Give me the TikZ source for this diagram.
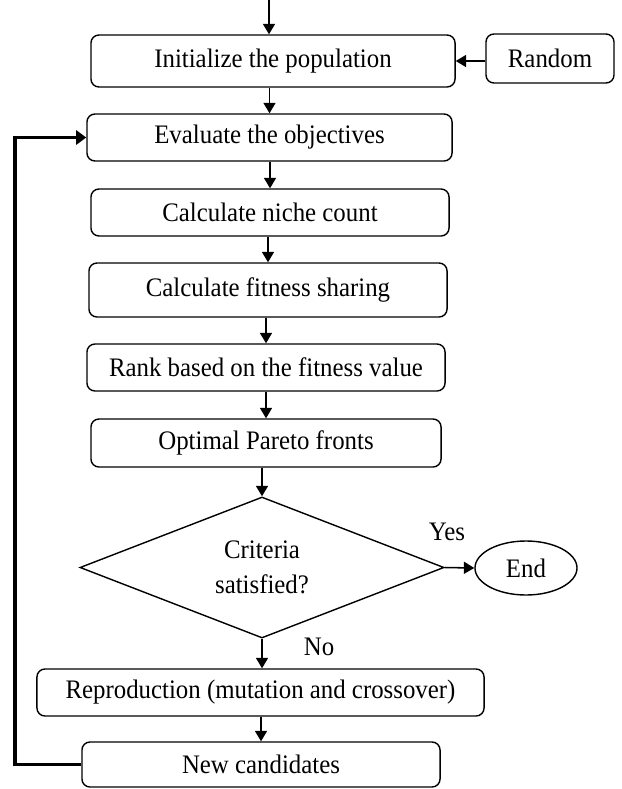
\documentclass[tikz,border=0pt]{standalone}
\usepackage{fontspec}
\setmainfont[FakeStretch=0.93]{Liberation Serif}
\usetikzlibrary{shapes.geometric,arrows.meta}

\begin{document}
\begin{tikzpicture}[x=0.025cm, y=-0.025cm,
	box/.style={draw, line width=1pt, rounded corners=0.2cm, inner sep=0pt, minimum height=1.175cm, font=\fontsize{19}{24}\selectfont},
	arr/.style={line width=1.1pt, -{Triangle[length=0.26cm, width=0.3cm]}},
	lbl/.style={font=\fontsize{19}{24}\selectfont}]
	\useasboundingbox (0,0) rectangle (622,789);
	\node[box, minimum width=9.1cm, minimum height=1.3cm] (init) at (273,61) {Initialize the population};
	\node[box, minimum width=3.2cm, minimum height=1.225cm] (random) at (550,58.5) {Random};
	\node[box, minimum width=9.125cm] (eval) at (269.5,137.5) {Evaluate the objectives};
	\node[box, minimum width=8.95cm] (niche) at (270,212.5) {Calculate niche count};
	\node[box, minimum width=8.95cm, minimum height=1.35cm] (share) at (268,290) {Calculate fitness sharing};
	\node[box, minimum width=8.95cm] (rank) at (266,367.5) {Rank based on the fitness value};
	\node[box, minimum width=8.75cm, minimum height=1.2cm] (pareto) at (266,443) {Optimal Pareto fronts};
	\node[draw, diamond, line width=1pt, aspect=2.58, inner sep=0pt, minimum width=9.1cm, minimum height=3.525cm, align=center, font=\fontsize{19}{25}\selectfont] (crit) at (262,567.5) {Criteria\\satisfied?};
	\node[draw, ellipse, line width=1pt, inner sep=0pt, minimum width=2.55cm, minimum height=1.35cm, font=\fontsize{19}{24}\selectfont] (end) at (526,568) {End};
	\node[box, minimum width=11.175cm] (repro) at (260.5,692.5) {Reproduction (mutation and crossover)};
	\node[box, minimum width=8.95cm, minimum height=1.125cm] (newc) at (261,764.5) {New candidates};
	\node[lbl] (yes) at (447,532) {Yes};
	\node[lbl] (no) at (319,647) {No};
	\coordinate (top) at (269,0);
	\coordinate (back) at (15,0);

	\draw[arr] (top) -- (top |- init.north);
	\draw[arr] (random.west |- init.east) -- (init.east);
	\draw[arr] (eval.north |- init.south) -- (eval.north);
	\draw[arr] (niche.north |- eval.south) -- (niche.north);
	\draw[arr] (share.north |- niche.south) -- (share.north);
	\draw[arr] (rank.north |- share.south) -- (rank.north);
	\draw[arr] (pareto.north |- rank.south) -- (pareto.north);
	\draw[arr] (crit.north |- pareto.south) -- (crit.north);
	\draw[arr] (crit.east) -- (end.west);
	\draw[arr] (crit.south) -- (crit.south |- repro.north);
	\draw[arr] (newc.north |- repro.south) -- (newc.north);
	\draw[line width=2.5pt, -{Triangle[length=0.25cm, width=0.35cm]}] (newc.west) -- (newc.west -| back) |- (eval.west);
\end{tikzpicture}
\end{document}
